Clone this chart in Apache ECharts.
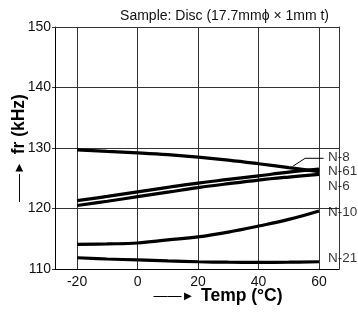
<!DOCTYPE html>
<html>
<head>
<meta charset="utf-8">
<script src="https://cdn.jsdelivr.net/npm/echarts@6/dist/echarts.min.js"></script>
<style>html,body{margin:0;padding:0;background:#fff}#c{width:358px;height:315px}</style>
</head>
<body>
<div id="c"></div>
<script>
// Temperatures (°C)
var temps = [-20, -10, 0, 10, 20, 30, 40, 50, 60];
// Resonant frequency fr (kHz) per material
var n8  = [129.7, 129.45, 129.2, 128.9, 128.5, 128.0, 127.4, 126.75, 126.1];
var n61 = [121.3, 122.0, 122.75, 123.5, 124.2, 124.8, 125.4, 126.0, 126.5];
var n6  = [120.5, 121.2, 121.95, 122.7, 123.45, 124.1, 124.7, 125.2, 125.65];
var n10 = [114.07, 114.15, 114.3, 114.8, 115.3, 116.1, 117.1, 118.2, 119.6];
var n21 = [111.86, 111.65, 111.5, 111.33, 111.2, 111.12, 111.1, 111.12, 111.2];
var seriesNames = ['N-8', 'N-61', 'N-6', 'N-10', 'N-21'];
// Label anchors (temp, kHz) for the right-side curve labels
var labelX = [63.0, 63.0, 63.0, 63.0, 63.0];
var labelY = [128.46, 126.1, 123.6, 119.3, 111.77];
// Leader line for the N-8 label (temp, kHz)
var leaderX = [51.4, 55.4, 61.5];
var leaderY = [127.0, 128.3, 128.3];
// Axis ticks
var xTicks = [-20, 0, 20, 40, 60];
var xMin = -27.3, xMax = 66.6;
var yMin = 110, yMax = 150, yStep = 10;
var titleText = 'Sample: Disc (17.7mm\u03d5 \u00d7 1mm t)';

function pairs(xs, ys) { return xs.map(function (x, i) { return [x, ys[i]]; }); }

var chart = echarts.init(document.getElementById('c'), null, {renderer: 'canvas'});
var font = 'Liberation Sans, Arial, Helvetica, sans-serif';
var curves = [n8, n61, n6, n10, n21];
var series = curves.map(function (vals, i) {
  return {
    type: 'line', name: seriesNames[i], data: pairs(temps, vals),
    smooth: 0.4, symbol: 'none', z: 3,
    lineStyle: {color: '#000', width: 3.2}
  };
});
series.push({
  type: 'line', data: pairs(leaderX, leaderY), symbol: 'none', z: 4,
  lineStyle: {color: '#000', width: 1}
});
series.push({
  type: 'scatter', symbolSize: 0, z: 5,
  data: labelX.map(function (x, i) { return {value: [x, labelY[i]], name: seriesNames[i]}; }),
  label: {show: true, position: 'right', distance: 0, formatter: '{b}',
    color: '#000', fontSize: 13.5, fontFamily: font}
});

var arrowRich = {
  ln: {fontSize: 14, fontFamily: font, color: '#000', fontWeight: 'normal'},
  hd: {fontSize: 13, fontFamily: font, color: '#000', fontWeight: 'normal'},
  t: {fontSize: 17.5, fontFamily: font, color: '#000', fontWeight: 'bold'}
};

chart.setOption({
  animation: false,
  backgroundColor: '#fff',
  title: {text: titleText, right: 24, top: 4,
    textStyle: {fontSize: 14, fontWeight: 'normal', color: '#111', fontFamily: font}},
  grid: {left: 55, right: 19, top: 27, bottom: 46, outerBoundsMode: 'none', containLabel: false},
  xAxis: [{
    type: 'value', min: xMin, max: xMax, position: 'bottom',
    name: '{ln|\u2014\u2014}{hd|\u25ba}  {t|Temp (\u00b0C)}',
    nameLocation: 'middle', nameGap: 18, nameMoveOverlap: false,
    nameTextStyle: {rich: arrowRich, padding: [0, 0, 0, 42]},
    axisLine: {show: true, onZero: false, lineStyle: {color: '#000', width: 1}},
    axisTick: {show: true, inside: true, length: 242, customValues: xTicks,
      lineStyle: {color: '#333', width: 1}},
    axisLabel: {customValues: xTicks, fontSize: 14, color: '#111', fontFamily: font, margin: 6},
    splitLine: {show: false}
  }, {
    type: 'value', min: xMin, max: xMax, position: 'top',
    axisLine: {show: true, onZero: false, lineStyle: {color: '#333', width: 1}},
    axisTick: {show: false}, axisLabel: {show: false}, splitLine: {show: false}
  }],
  yAxis: [{
    type: 'value', min: yMin, max: yMax, interval: yStep,
    name: '{ln|\u2014\u2014}{hd|\u25ba}  {t|fr (kHz)}',
    nameLocation: 'middle', nameGap: 27, nameMoveOverlap: false,
    nameTextStyle: {rich: arrowRich, padding: [0, 0, 0, 0]},
    axisLine: {show: true, onZero: false, lineStyle: {color: '#000', width: 1}},
    axisTick: {show: true, length: 3, lineStyle: {color: '#333'}},
    axisLabel: {fontSize: 14, color: '#111', fontFamily: font, margin: 4},
    splitLine: {show: true, lineStyle: {color: '#333', width: 1}}
  }, {
    type: 'value', min: yMin, max: yMax, position: 'right',
    axisLine: {show: true, onZero: false, lineStyle: {color: '#333', width: 1}},
    axisTick: {show: false}, axisLabel: {show: false}, splitLine: {show: false}
  }],
  series: series
});
</script>
</body>
</html>
